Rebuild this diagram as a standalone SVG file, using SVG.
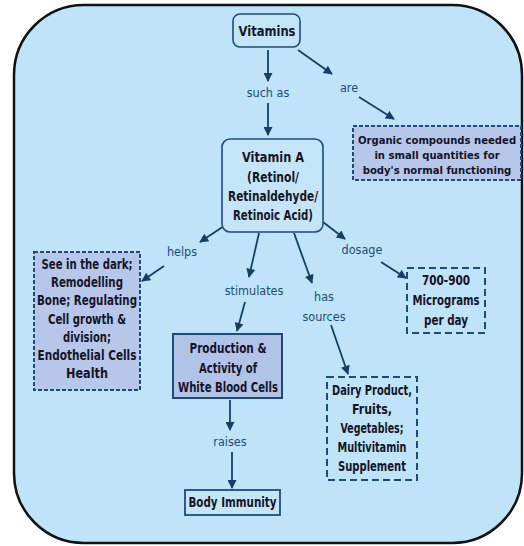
<svg xmlns="http://www.w3.org/2000/svg" width="524" height="546" viewBox="0 0 524 546">
  <defs>
    <marker id="arrow" viewBox="0 0 10 10" refX="9" refY="5" markerWidth="11" markerHeight="9" markerUnits="userSpaceOnUse" orient="auto">
      <path d="M0,0 L10,5 L0,10 z" fill="#173f66"/>
    </marker>
    <style>
      .frame { fill: #bfe3f8; stroke: #111; stroke-width: 2.5; }
      .node-round { fill: #c4e5f8; stroke: #1d4c78; stroke-width: 1.6; }
      .node-solid { fill: #b2c3e8; stroke: #1d4c78; stroke-width: 2; }
      .node-plain { fill: #c4e5f8; stroke: #1d4c78; stroke-width: 1.8; }
      .node-dash-fill { fill: #b6c7ea; stroke: #1d4c78; stroke-width: 2; stroke-dasharray: 4 2; }
      .node-dash { fill: none; stroke: #1d4c78; stroke-width: 2; stroke-dasharray: 7 4; }
      .t { font-family: "DejaVu Sans Condensed", "DejaVu Sans", sans-serif; font-weight: bold; font-size: 13.5px; fill: #141428; text-anchor: middle; }
      .t-sm { font-size: 11.2px; }
      .lbl { font-family: "DejaVu Sans Condensed", "DejaVu Sans", sans-serif; font-size: 12.5px; fill: #1d4c78; text-anchor: middle; }
      .c { fill: none; stroke: #173f66; stroke-width: 1.8; marker-end: url(#arrow); }
    </style>
  </defs>

  <!-- background panel -->
  <rect class="frame" x="14" y="5" width="508" height="538" rx="70" ry="70"/>

  <!-- connectors -->
  <g id="connectors">
    <path class="c" d="M268,50 L268,81"/>
    <path class="c" d="M268,103 L268,135"/>
    <path class="c" d="M298,50 L332,74"/>
    <path class="c" d="M359,97 L394,119"/>
    <path class="c" d="M224,226 L200,242"/>
    <path class="c" d="M164,266 L142,281"/>
    <path class="c" d="M259,233 L249,277"/>
    <path class="c" d="M245,302 L237,331"/>
    <path class="c" d="M230,400 L230,430"/>
    <path class="c" d="M232,452 L232,488"/>
    <path class="c" d="M294,233 L312,283"/>
    <path class="c" d="M331,325 L348,374"/>
    <path class="c" d="M323,222 L345,239"/>
    <path class="c" d="M381,262 L406,278"/>
  </g>

  <!-- connector labels -->
  <g id="labels">
    <text class="lbl" x="268" y="97">such as</text>
    <text class="lbl" x="349" y="92">are</text>
    <text class="lbl" x="182" y="256">helps</text>
    <text class="lbl" x="254" y="295">stimulates</text>
    <text class="lbl" x="324" y="301">has</text>
    <text class="lbl" x="324" y="321">sources</text>
    <text class="lbl" x="362" y="254">dosage</text>
    <text class="lbl" x="230" y="446">raises</text>
  </g>

  <g id="vitamins">
    <rect class="node-round" x="233" y="14" width="67" height="33" rx="7"/>
    <text class="t" x="267" y="36" font-size="14.5" textLength="57" lengthAdjust="spacingAndGlyphs">Vitamins</text>
  </g>

  <g id="vitamin-a">
    <rect class="node-round" x="222" y="139" width="101" height="93" rx="8"/>
    <text class="t" x="273" y="162" textLength="62" lengthAdjust="spacingAndGlyphs">Vitamin A</text>
    <text class="t" x="273" y="182" textLength="52" lengthAdjust="spacingAndGlyphs">(Retinol/</text>
    <text class="t" x="273" y="201" textLength="90" lengthAdjust="spacingAndGlyphs">Retinaldehyde/</text>
    <text class="t" x="273" y="220" textLength="80" lengthAdjust="spacingAndGlyphs">Retinoic Acid)</text>
  </g>

  <g id="organic-compounds">
    <rect class="node-dash-fill" x="353" y="126" width="168" height="54"/>
    <text class="t t-sm" x="437" y="144">Organic compounds needed</text>
    <text class="t t-sm" x="437" y="159">in small quantities for</text>
    <text class="t t-sm" x="437" y="174">body's normal functioning</text>
  </g>

  <g id="functions">
    <rect class="node-dash-fill" x="34" y="252" width="106" height="138"/>
    <text class="t" x="87" y="269" textLength="91" lengthAdjust="spacingAndGlyphs">See in the dark;</text>
    <text class="t" x="87" y="287" textLength="72" lengthAdjust="spacingAndGlyphs">Remodelling</text>
    <text class="t" x="87" y="305" textLength="100" lengthAdjust="spacingAndGlyphs">Bone; Regulating</text>
    <text class="t" x="87" y="324" textLength="78" lengthAdjust="spacingAndGlyphs">Cell growth &amp;</text>
    <text class="t" x="87" y="342" textLength="48" lengthAdjust="spacingAndGlyphs">division;</text>
    <text class="t" x="87" y="360" textLength="99" lengthAdjust="spacingAndGlyphs">Endothelial Cells</text>
    <text class="t" x="87" y="378" textLength="42" lengthAdjust="spacingAndGlyphs">Health</text>
  </g>

  <g id="white-blood-cells">
    <rect class="node-solid" x="173" y="334" width="109" height="64"/>
    <text class="t" x="228" y="353" textLength="77" lengthAdjust="spacingAndGlyphs">Production &amp;</text>
    <text class="t" x="228" y="373" textLength="58" lengthAdjust="spacingAndGlyphs">Activity of</text>
    <text class="t" x="228" y="392" textLength="100" lengthAdjust="spacingAndGlyphs">White Blood Cells</text>
  </g>

  <g id="body-immunity">
    <rect class="node-plain" x="185" y="490" width="95" height="25"/>
    <text class="t" x="232.5" y="507" textLength="88" lengthAdjust="spacingAndGlyphs">Body Immunity</text>
  </g>

  <g id="sources">
    <rect class="node-dash" x="327" y="377" width="90" height="103"/>
    <text class="t" x="372" y="395" textLength="80" lengthAdjust="spacingAndGlyphs">Dairy Product,</text>
    <text class="t" x="372" y="414" textLength="40" lengthAdjust="spacingAndGlyphs">Fruits,</text>
    <text class="t" x="372" y="433" textLength="63" lengthAdjust="spacingAndGlyphs">Vegetables;</text>
    <text class="t" x="372" y="452" textLength="69" lengthAdjust="spacingAndGlyphs">Multivitamin</text>
    <text class="t" x="372" y="471" textLength="68" lengthAdjust="spacingAndGlyphs">Supplement</text>
  </g>

  <g id="dosage">
    <rect class="node-dash" x="407" y="268" width="78" height="65"/>
    <text class="t" x="446" y="285" textLength="48" lengthAdjust="spacingAndGlyphs">700-900</text>
    <text class="t" x="446" y="305" textLength="67" lengthAdjust="spacingAndGlyphs">Micrograms</text>
    <text class="t" x="446" y="325" textLength="44" lengthAdjust="spacingAndGlyphs">per day</text>
  </g>
</svg>
